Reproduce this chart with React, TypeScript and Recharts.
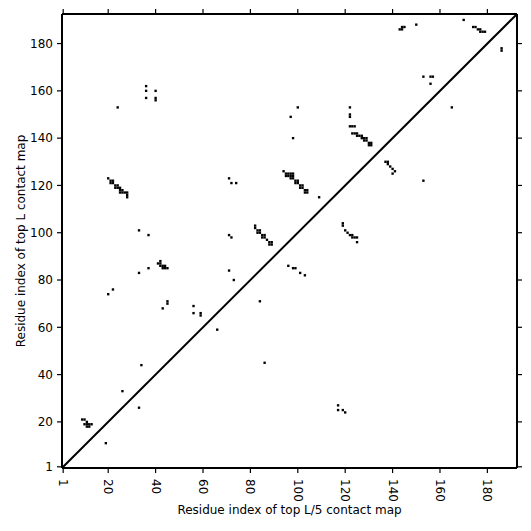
import React from 'react';
import { ScatterChart, Scatter, XAxis, YAxis, Label } from 'recharts';

// residue ticks shared by both axes
const residueTicks = [1, 20, 40, 60, 80, 100, 120, 140, 160, 180];
const residueDomain: [number, number] = [0.5, 192.5];

// diagonal reference, corner to corner
const diagonal = [
  { i: 0.5, j: 0.5 },
  { i: 192.5, j: 192.5 },
];

// contacts above the diagonal (top L map)
const topLContacts: [number, number][] = [
  [36, 162], [36, 160], [36, 157], [40, 160], [40, 157], [40, 156], [24, 153],
  [100, 153], [97, 149], [98, 140],
  [122, 153], [122, 150], [122, 149], [122, 145], [123, 145], [124, 145],
  [123, 142], [124, 142], [125, 142], [125, 141], [126, 141], [127, 141], [127, 140],
  [128, 140], [129, 140], [128, 139], [129, 139], [130, 138], [131, 138], [130, 137], [131, 137],
  [170, 190], [143, 186], [144, 186], [144, 187], [145, 187], [150, 188],
  [174, 187], [175, 187], [176, 186], [177, 186], [177, 185], [178, 185], [179, 185],
  [153, 166], [156, 166], [157, 166], [156, 163],
  [71, 123], [72, 121], [74, 121], [109, 115],
  [94, 126], [95, 125], [96, 125], [97, 125], [98, 125], [95, 124], [96, 124], [97, 124],
  [98, 124], [97, 123], [98, 123], [99, 122], [100, 122], [99, 121], [100, 121], [101, 120],
  [102, 120], [101, 119], [102, 119], [103, 118], [104, 118], [103, 117], [104, 117],
  [71, 99], [72, 98], [71, 84], [73, 80],
  [82, 103], [82, 102], [83, 101], [84, 101], [83, 100], [84, 100], [85, 99], [86, 99],
  [85, 98], [86, 98], [87, 97], [88, 96], [89, 96], [88, 95], [89, 95],
  [20, 123], [21, 122], [22, 122], [21, 121], [22, 121], [23, 120], [24, 120], [23, 119],
  [24, 119], [25, 119], [25, 118], [26, 118], [25, 117], [26, 117], [27, 117], [28, 117],
  [28, 116], [28, 115],
  [33, 101], [37, 99], [33, 83], [37, 85],
  [41, 87], [42, 88], [42, 87], [42, 86], [43, 86], [44, 86], [43, 85], [44, 85], [45, 85],
  [22, 76], [20, 74], [43, 68], [45, 71], [45, 70], [56, 69], [56, 66], [59, 65], [59, 66],
  [34, 44], [26, 33],
  [9, 21], [10, 21], [11, 20], [10, 19], [11, 19], [12, 19], [13, 19], [11, 18], [12, 18],
];

// contacts below the diagonal (top L/5 map)
const topL5Contacts: [number, number][] = [
  [186, 177], [186, 178], [165, 153], [153, 122],
  [137, 130], [138, 130], [138, 129], [139, 128], [140, 127], [141, 126], [140, 125],
  [119, 104], [119, 103], [120, 101], [121, 100], [122, 99], [123, 99], [123, 98],
  [124, 98], [125, 98], [125, 96],
  [96, 86], [98, 85], [99, 85], [101, 83], [103, 82],
  [84, 71], [86, 45], [66, 59], [33, 26], [19, 11],
  [117, 27], [117, 25], [119, 25], [120, 24],
];

const toPoints = (pairs: [number, number][]) => pairs.map(([i, j]) => ({ i, j }));

const FONT = '"DejaVu Sans", sans-serif';
const CELL = 455 / 192;

const ContactCell = (props: any) => {
  const { cx, cy } = props;
  if (cx == null || cy == null) return <g />;
  return <rect x={cx - CELL / 2} y={cy - CELL / 2} width={CELL} height={CELL} fill="#000" />;
};

const RotatedTick = (props: any) => {
  const { x, y, payload } = props;
  return (
    <text
      x={x}
      y={y}
      transform={`rotate(90, ${x}, ${y})`}
      textAnchor="start"
      dominantBaseline="central"
      fontSize={12}
      fontFamily={FONT}
      fill="#000"
    >
      {payload.value}
    </text>
  );
};

const App: React.FC = () => {
  return (
    <div style={{ position: 'fixed', left: 0, top: 0, width: 531, height: 531, background: '#fff' }}>
      <ScatterChart width={531} height={531} margin={{ top: 13, right: 13, bottom: 0, left: 0 }}>
        <XAxis
          xAxisId="bottom"
          type="number"
          dataKey="i"
          domain={residueDomain}
          ticks={residueTicks}
          allowDataOverflow
          height={63}
          axisLine={{ stroke: '#000', strokeWidth: 2 }}
          tickLine={{ stroke: '#000', strokeWidth: 1.2 }}
          tickSize={5}
          tickMargin={6}
          tick={<RotatedTick />}
          interval={0}
        >
          <Label
            content={(p: any) => {
              const vb = p.viewBox || { x: 62, y: 468, width: 455 };
              return (
                <text
                  x={vb.x + vb.width / 2}
                  y={vb.y + 46}
                  textAnchor="middle"
                  fontSize={12}
                  fontFamily={FONT}
                  fill="#000"
                >
                  Residue index of top L/5 contact map
                </text>
              );
            }}
          />
        </XAxis>
        <XAxis
          xAxisId="top"
          orientation="top"
          type="number"
          dataKey="i"
          domain={residueDomain}
          ticks={residueTicks}
          allowDataOverflow
          height={1}
          axisLine={{ stroke: '#000', strokeWidth: 2 }}
          tickLine={{ stroke: '#000', strokeWidth: 1.2 }}
          tickSize={5}
          tickFormatter={() => ''}
          interval={0}
        />
        <YAxis
          yAxisId="left"
          type="number"
          dataKey="j"
          domain={residueDomain}
          ticks={residueTicks}
          allowDataOverflow
          width={62}
          axisLine={{ stroke: '#000', strokeWidth: 2 }}
          tickLine={{ stroke: '#000', strokeWidth: 1.2 }}
          tickSize={5}
          tickMargin={4}
          tick={{ fill: '#000', fontSize: 12, fontFamily: FONT }}
          interval={0}
        >
          <Label
            content={(p: any) => {
              const vb = p.viewBox || { x: 0, y: 14, height: 454 };
              const cx = vb.x + 21;
              const cy = vb.y + vb.height / 2;
              return (
                <text
                  x={cx}
                  y={cy}
                  transform={`rotate(-90, ${cx}, ${cy})`}
                  textAnchor="middle"
                  dominantBaseline="central"
                  fontSize={12}
                  fontFamily={FONT}
                  fill="#000"
                >
                  Residue index of top L contact map
                </text>
              );
            }}
          />
        </YAxis>
        <YAxis
          yAxisId="right"
          orientation="right"
          type="number"
          dataKey="j"
          domain={residueDomain}
          ticks={residueTicks}
          allowDataOverflow
          width={1}
          axisLine={{ stroke: '#000', strokeWidth: 2 }}
          tickLine={{ stroke: '#000', strokeWidth: 1.2 }}
          tickSize={5}
          tickFormatter={() => ''}
          interval={0}
        />
        <Scatter
          name="diagonal"
          data={diagonal}
          xAxisId="top"
          yAxisId="right"
          line={{ stroke: '#000', strokeWidth: 2 }}
          shape={() => <g />}
          isAnimationActive={false}
        />
        <Scatter
          name="top L"
          data={toPoints(topLContacts)}
          xAxisId="bottom"
          yAxisId="left"
          shape={<ContactCell />}
          isAnimationActive={false}
        />
        <Scatter
          name="top L/5"
          data={toPoints(topL5Contacts)}
          xAxisId="bottom"
          yAxisId="left"
          shape={<ContactCell />}
          isAnimationActive={false}
        />
      </ScatterChart>
    </div>
  );
};

export default App;
